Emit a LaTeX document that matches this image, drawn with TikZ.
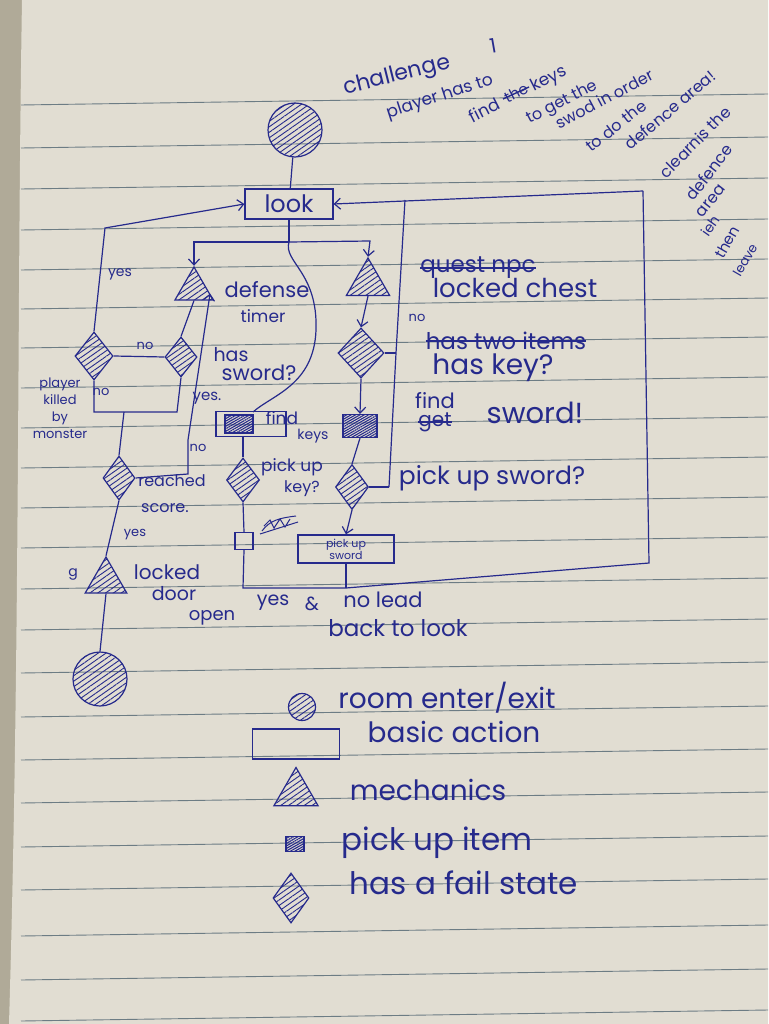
\documentclass[tikz,border=0pt]{standalone}
\usepackage{fontspec}
\setmainfont{Poppins}
\usetikzlibrary{shapes.geometric,arrows.meta,patterns.meta,calc}
\definecolor{ink}{RGB}{38,42,140}
\definecolor{paper}{RGB}{225,221,210}
\definecolor{ruleline}{RGB}{108,124,132}
\definecolor{shadowc}{RGB}{176,170,152}
\begin{document}
\begin{tikzpicture}[x=1pt,y=-1pt,
  pen/.style={draw=ink,line width=1.2pt},
  arr/.style={pen,-{Straight Barb[length=6pt,width=11pt]}},
  hatch/.style={pattern={Lines[angle=35,distance=4.5pt,line width=0.9pt]},pattern color=ink},
  darkhatch/.style={pattern={Lines[angle=30,distance=2.2pt,line width=1.1pt]},pattern color=ink},
  room/.style={circle,pen,hatch,inner sep=0pt,minimum size=#1},
  actbox/.style={rectangle,pen,inner sep=0pt},
  mech/.style={regular polygon,regular polygon sides=3,pen,hatch,inner sep=0pt,minimum size=#1},
  failnode/.style={diamond,pen,hatch,inner sep=0pt},
  itembox/.style={rectangle,pen,darkhatch,inner sep=0pt},
  lab/.style={text=ink,inner sep=0pt,font=\fontsize{#1}{#1}\selectfont},
  strike/.style={ink,line width=1.4pt},
]
\useasboundingbox (0,0) rectangle (768,1024);
% paper
\fill[shadowc] (0,0) rectangle (768,1024);
\fill[paper] (22,0) .. controls (17,300) and (20,650) .. (9,1024) -- (768,1024) -- (768,0) -- cycle;
\foreach \yy in {105,148,189,230,270,309,348,388,428,468,508,548,589,630,673,717,760,803,847,890,936,980,1021}
  {\draw[ruleline,line width=0.9pt] (21,\yy) -- (768,\yy-11);}

% ---------- main flow ----------
\node[room=54] (start) at (295,130) {};
\node[actbox,minimum width=88,minimum height=30,lab=24] (look) at (289,204) {look};
\draw[pen] (start) -- (look);
\coordinate (j) at (289,242);
\coordinate (jl) at (194,242);
\coordinate (jr) at (370,241);
\draw[pen] (look.south) -- (j);

% left branch
\node[mech=44] (def) at (194,289) {};
\node[failnode,minimum width=32,minimum height=40] (hs) at (181,357) {};
\node[failnode,minimum width=38,minimum height=48] (pkm) at (94,356) {};
\node[failnode,minimum width=32,minimum height=44] (rs) at (119,478) {};
\node[mech=48] (door) at (106,581) {};
\node[room=54] (finish) at (100,679) {};
\draw[arr] (j) -- (jl) -- (def.north);
\draw[pen] (def.south) -- (hs.north);
\draw[pen] (pkm.east) -- (hs.west);
\draw[pen] (pkm.south) |- (177,412) -- (hs.south);
\coordinate (rbm) at (124,412);
\draw[pen] (rbm) -- (rs.north);
\coordinate (tl) at (105,228);
\draw[arr] (pkm.north) -- (tl) -- (look.west);
\coordinate (rsr) at (188,474);
\coordinate (rsu) at (188,440);
\coordinate (deftip) at ($(def.corner 3)!0.2!(def.corner 1)$);
\draw[arr] (rs.east) -- (rsr) -- (rsu) -- (deftip);
\draw[pen] (rs.south) -- (door.north);
\draw[pen] (door.south) -- (finish.north);

% middle branch
\node[actbox,minimum width=70,minimum height=25] (fk) at (251,424) {};
\node[itembox,minimum width=28,minimum height=18] (fki) at (239,424) {};
\node[failnode,minimum width=33,minimum height=44] (pk) at (243,480) {};
\node[actbox,minimum width=18,minimum height=17] (sq) at (244,541) {};
\coordinate (fktop) at (253,412);
\draw[pen] (j) .. controls (283,262) and (318,272) .. (316,330) .. controls (314,385) and (272,395) .. (fktop);
\draw[pen] (pk.north |- fk.south) -- (pk.north);
\draw[pen] (pk.south) -- (sq.north);
\coordinate (bl) at (243,588);
\coordinate (bm) at (346,588);
\coordinate (br) at (649,563);
\coordinate (tr) at (643,191);
\draw[pen] (sq.south) -- (bl) -- (bm) -- (br) -- (tr);
\draw[arr] (tr) -- (look.east);

% right branch
\node[mech=50] (chest) at (368,283) {};
\node[failnode,minimum width=46,minimum height=50] (hk) at (361,353) {};
\node[itembox,minimum width=34,minimum height=23] (fs) at (360,426) {};
\node[failnode,minimum width=33,minimum height=45] (psq) at (352,487) {};
\node[actbox,minimum width=96,minimum height=28] (psw) at (346,549) {};
\draw[arr] (j) -- (jr) -- (chest.north);
\draw[arr] (chest.south) -- (hk.north);
\draw[arr] (hk.south) -- (fs.north);
\draw[pen] (fs.south) -- (psq.north);
\draw[arr] (psq.south) -- (psw.north);
\draw[pen] (psw.south) -- (bm);
\coordinate (tv) at (405,200);
\coordinate (hkv) at (396,353);
\coordinate (bv) at (389,487);
\draw[pen] (tv) -- (hkv) -- (bv);
\draw[pen] (hk.east) -- (hkv);
\draw[pen] (psq.east) -- (bv);

% ---------- labels ----------
\node[lab=14] (lyes1) at (120,274) {yes};
\node[lab=13] (lno1) at (145,346) {no};
\node[lab=13] (lno2) at (101,392) {no};
\node[lab=15] (lyes2) at (207,398) {yes.};
\node[lab=13] (lno3) at (198,448) {no};
\node[lab=14,align=center,font=\fontsize{13}{17}\selectfont] (lplayer) at (60,408) {player\\killed\\by\\monster};
\node[lab=21] (ldef) at (267,290) {defense};
\node[lab=17] (ltimer) at (263,316) {timer};
\node[lab=19] (lhas) at (231,355) {has};
\node[lab=21] (lsword) at (259,373) {sword?};
\node[lab=17] (lfind) at (282,418) {find};
\node[lab=14] (lkeys) at (313,436) {keys};
\node[lab=17] (lpick) at (292,467) {pick up};
\node[lab=16] (lkey) at (302,489) {key?};
\node[lab=16] (lreach) at (172,481) {reached};
\node[lab=16] (lscore) at (165,508) {score.};
\node[lab=13] (lyes3) at (135,535) {yes};
\node[lab=14] (lg) at (73,574) {g};
\node[lab=20] (llocked) at (167,572) {locked};
\node[lab=19] (ldoor) at (174,594) {door};
\node[lab=18] (lopen) at (212,618) {open};
\node[lab=19] (lyes4) at (273,603) {yes};
\node[lab=19] (lamp) at (312,604) {\&};
\node[lab=21] (lnolead) at (383,600) {no lead};
\node[lab=23] (lback) at (398,628) {back to look};
\node[lab=23] (lquest) at (478,268) {quest npc};
\draw[strike] (lquest.west) -- (lquest.east);
\node[lab=26] (lchest) at (515,288) {locked chest};
\node[lab=13] (lno4) at (417,318) {no};
\node[lab=23] (ltwo) at (506,341) {has two items};
\draw[strike] (ltwo.west) -- (ltwo.east);
\node[lab=28] (lhaskey) at (493,368) {has key?};
\node[lab=21] (lfind2) at (435,401) {find};
\node[lab=20] (lget) at (435,422) {get};
\draw[strike] (lget.west) -- (lget.east);
\node[lab=29] (lsw) at (535,413) {sword!};
\node[lab=25] (lpsq) at (492,478) {pick up sword?};
\node[lab=11,align=center,font=\fontsize{11}{10}\selectfont] (lpsw) at (346,549) {pick up\\sword};
% crossed-out scribble
\draw[ink,line width=1pt] (262,531) .. controls (270,520) and (280,518) .. (296,516)
  (264,526) -- (270,520) -- (274,528) -- (280,519) -- (285,527) -- (290,519)
  (260,534) -- (298,522);

% ---------- notes (top right) ----------
\node[lab=22,rotate=14] (nch) at (397,76) {challenge};
\node[lab=20,rotate=10] (n1) at (493,46) {1};
\node[lab=17,rotate=18] (npl) at (440,97) {player has to};
\node[lab=17,rotate=27] (nfind) at (518,95) {find \phantom{the} keys};
\node[lab=15,rotate=27] (nthe) at (516,93) {the};
\draw[strike] ($(nthe.center)+(-13,6)$) -- ($(nthe.center)+(13,-6)$);
\node[lab=16,rotate=27] (nget) at (562,103) {to get the};
\node[lab=16,rotate=28] (nswod) at (604,99) {swod in order};
\node[lab=16,rotate=38] (ndo) at (616,126) {to do the};
\node[lab=16,rotate=40] (narea) at (670,110) {defence area!};
\node[lab=16,rotate=45] (nclear) at (695,142) {clearnis the};
\node[lab=16,rotate=52] (ndef) at (709,172) {defence};
\node[lab=16,rotate=52] (narea2) at (711,201) {area};
\node[lab=14,rotate=55] (nieh) at (710,226) {ieh};
\node[lab=15,rotate=60] (nthen) at (727,242) {then};
\node[lab=13,rotate=60] (nleave) at (745,260) {leave};

% ---------- legend ----------
\node[room=27] (kroom) at (302,707) {};
\node[lab=28] (lkroom) at (447,698) {room enter/exit};
\node[actbox,minimum width=87,minimum height=30] (kact) at (296,744) {};
\node[lab=28] (lkact) at (454,732) {basic action};
\node[mech=51] (kmech) at (296,793) {};
\node[lab=28] (lkmech) at (428,790) {mechanics};
\node[itembox,minimum width=18,minimum height=15] (kitem) at (295,844) {};
\node[lab=31] (lkitem) at (437,843) {pick up item};
\node[failnode,minimum width=36,minimum height=50] (kfail) at (291,898) {};
\node[lab=31] (lkfail) at (464,883) {has a fail state};
\end{tikzpicture}
\end{document}
